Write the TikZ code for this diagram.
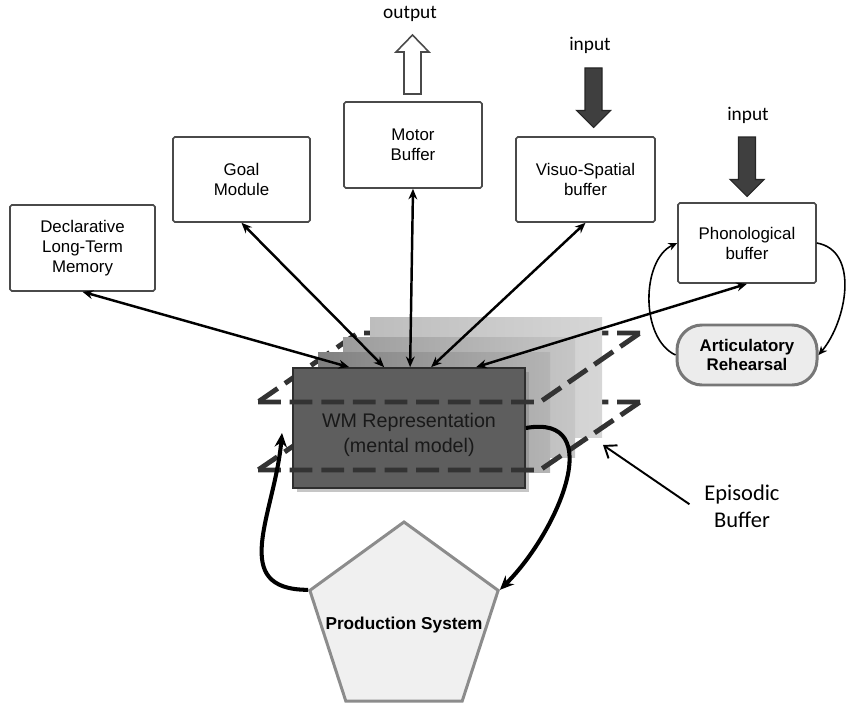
\documentclass[tikz,border=0pt]{standalone}
\usepackage{fontspec}
\setmainfont{Liberation Sans}
\newfontfamily\calibri{Carlito}
\usepackage{tikz}
\usetikzlibrary{arrows}
\usetikzlibrary{shapes, shadows, calc, arrows.meta}

\definecolor{edgegray}{HTML}{4A4A4A}
\definecolor{wmgray}{HTML}{5E5E5E}
\definecolor{wmedge}{HTML}{2E2E2E}
\definecolor{planegray}{HTML}{333333}
\definecolor{inputgray}{HTML}{3F3F3F}
\definecolor{rehfill}{HTML}{ECECEC}
\definecolor{rehedge}{HTML}{777777}
\definecolor{psfill}{HTML}{F0F0F0}
\definecolor{psedge}{HTML}{8C8C8C}
\definecolor{layAl}{HTML}{BDBDBD}
\definecolor{layAr}{HTML}{D6D6D6}
\definecolor{layBl}{HTML}{9C9C9C}
\definecolor{layBr}{HTML}{C6C6C6}
\definecolor{layCl}{HTML}{808080}
\definecolor{layCr}{HTML}{B4B4B4}

\tikzset{
	modbox/.style={draw=edgegray, line width=0.9pt, fill=white, rounded corners=1pt, align=center,
		minimum width=2.76cm, minimum height=1.7cm, font=\fontsize{9.6}{11.4}\selectfont},
	rehearsal/.style={draw=rehedge, line width=1.7pt, fill=rehfill, rounded corners=0.5cm, align=center,
		minimum width=2.8cm, minimum height=1.2cm, font=\bfseries\fontsize{9.6}{10.6}\selectfont},
	wmbox/.style={draw=wmedge, line width=1pt, fill=wmgray, minimum width=4.64cm, minimum height=2.4cm,
		drop shadow={shadow xshift=2pt, shadow yshift=-2pt, opacity=0.45}},
	wmtext/.style={align=center, text=black!90, font=\fontsize{11.2}{14.2}\selectfont, yshift=-0.13cm},
	prodsys/.style={regular polygon, regular polygon sides=5, minimum size=3.96cm, inner sep=0pt,
		fill=psfill, draw=psedge, line width=1.7pt},
	plane/.style={draw=planegray, line width=2.8pt, dash pattern=on 13pt off 5pt},
	link/.style={{Stealth[length=6pt,width=5pt]}-{Stealth[length=6pt,width=5pt]}, line width=1.4pt},
	cycle arrow/.style={-{Stealth[length=8pt,width=7pt]}, line width=2.3pt},
	reh arrow/.style={-{Stealth[length=5pt,width=4.5pt]}, line width=0.9pt},
	iolabel/.style={font=\calibri\fontsize{11}{13}\selectfont}
}

\begin{document}
\begin{tikzpicture}[>=stealth]
		% working memory around the episodic buffer
		\path[use as bounding box] (0,0) rectangle (17,14.16);
		\node[modbox, minimum width=2.9cm, minimum height=1.72cm] (decl) at (1.65,9.2) {Declarative\\Long-Term\\Memory};
		\node[modbox, minimum width=2.74cm] (goal) at (4.83,10.57) {Goal\\Module};
		\node[modbox, minimum height=1.72cm] (motor) at (8.26,11.26) {Motor\\Buffer};
		\node[modbox, minimum width=2.78cm] (visuo) at (11.71,10.57) {Visuo-Spatial\\buffer};
		\node[modbox, minimum height=1.6cm] (phon) at (14.94,9.3) {Phonological\\buffer};
		\node[rehearsal] (artic) at (14.94,7.06) {Articulatory\\Rehearsal};
		% input and output
		\draw[fill=white, draw=edgegray, line width=0.9pt] (8.08,12.28) -- (8.42,12.28) -- (8.42,13.12) -- (8.58,13.12) -- (8.25,13.46) -- (7.92,13.12) -- (8.08,13.12) -- cycle;
		\node[iolabel] (outlab) at (8.2,13.88) {output};
		\foreach \x/\y in {11.87/12.8, 14.94/11.42}{
			\draw[fill=inputgray, draw=black!85, line width=0.6pt] (\x-0.17,\y) -- (\x+0.17,\y) -- (\x+0.17,\y-0.85) -- (\x+0.34,\y-0.85) -- (\x,\y-1.19) -- (\x-0.34,\y-0.85) -- (\x-0.17,\y-0.85) -- cycle;
		}
		\node[iolabel] (inlabA) at (11.8,13.26) {input};
		\node[iolabel] (inlabB) at (14.96,11.86) {input};
		% back edges of the two planes
		\draw[plane] (12.8,7.5) -- (7.16,7.5) -- (5.16,6.12);
		\draw[plane] (12.8,6.12) -- (7.16,6.12) -- (5.16,4.76);
		% stacked copies behind the front box
		\foreach \dx/\dy/\lc/\rc in {1.54/1.02/layAl/layAr, 1.0/0.62/layBl/layBr, 0.5/0.32/layCl/layCr}{
			\shade[left color=\lc, right color=\rc] (5.86+\dx,4.4+\dy) rectangle ++(4.64,2.4);
		}
		\node[wmbox] (wm) at (8.18,5.6) {};
		\node[wmtext] (wmlab) at (wm.center) {WM Representation\\(mental model)};
		% front edges of the two planes
		\draw[plane] (5.16,6.12) -- (10.8,6.12) -- (12.8,7.5);
		\draw[plane] (5.16,4.76) -- (10.8,4.76) -- (12.8,6.12);
		\foreach \m/\d in {decl/1.14, goal/1.84, motor/2.36, visuo/2.78, phon/3.68}{
			\draw[link] (\m.south) -- ($(wm.north west)+(\d,0)$);
		}
		% production cycle
		\node[prodsys, label={[font=\bfseries\fontsize{9.8}{12}\selectfont, yshift=-0.08cm]center:Production System}] (ps) at (8.08,1.74) {};
		\coordinate (wmin) at (5.64,5.5);
		\draw[cycle arrow] (ps.corner 2) to[out=180,in=-95,looseness=1.3] (wmin);
		\draw[cycle arrow] (wm.east) to[out=10,in=45,looseness=1.3] (ps.corner 5);
		% rehearsal loop
		\draw[reh arrow] (artic.west) to[out=155,in=205,looseness=0.9] (phon.west);
		\draw[reh arrow] (phon.east) to[out=-10,in=50] (artic.east);
		% label
		\node[font=\calibri\fontsize{12.8}{15.4}\selectfont, align=center] (epi) at (14.84,4.04) {Episodic\\Buffer};
		\coordinate (ebtip) at (12.06,5.26);
		\draw[-{Straight Barb[length=6pt,width=9pt]}, line width=1.1pt] ([xshift=-5pt,yshift=1pt]epi.west) -- (ebtip);
	\end{tikzpicture}
\end{document}
